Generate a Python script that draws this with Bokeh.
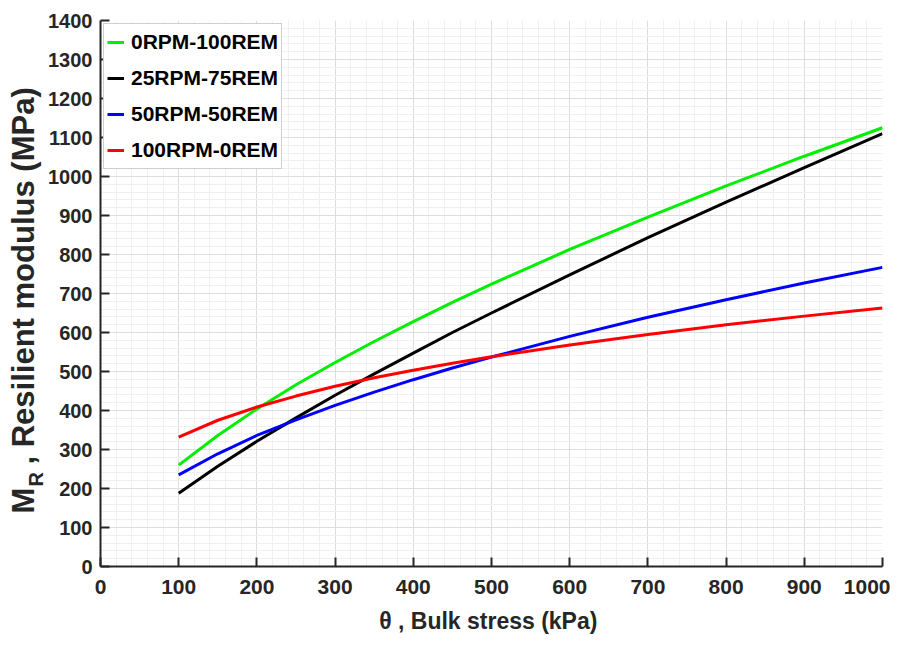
import math
from bokeh.plotting import figure
from bokeh.layouts import row
from bokeh.models import Range1d, SingleIntervalTicker, Label, Legend, LegendItem
from bokeh.embed import file_html
from bokeh.resources import INLINE

# Bulk stress (kPa)
theta = [100, 150, 200, 250, 300, 350, 400, 450, 500, 600, 700, 800, 900, 1000]
# Resilient modulus (MPa)
mr_0rpm_100rem = [260, 336, 404, 466, 523, 577, 628, 677, 724, 813, 896, 976, 1052, 1125]
mr_25rpm_75rem = [188, 257, 321, 381, 439, 494, 547, 600, 650, 748, 843, 934, 1023, 1110]
mr_50rpm_50rem = [235, 289, 336, 376, 413, 447, 479, 509, 537, 590, 639, 684, 727, 767]
mr_100rpm_0rem = [332, 375, 409, 437, 462, 484, 503, 521, 538, 568, 595, 620, 642, 663]

series_names = ["0RPM-100REM", "25RPM-75REM", "50RPM-50REM", "100RPM-0REM"]
series_values = [mr_0rpm_100rem, mr_25rpm_75rem, mr_50rpm_50rem, mr_100rpm_0rem]
series_colors = ["#00ee00", "#000000", "#0000ff", "#ff0000"]

SANS = "Liberation Sans"
W, H = 890, 639
LEFT_W = 45
TOP, BOTTOM = 20, 73

p = figure(width=W - LEFT_W, height=H, output_backend="svg", toolbar_location=None,
           x_range=Range1d(0, 1000), y_range=Range1d(0, 1400),
           min_border_left=99 - LEFT_W, min_border_right=8, min_border_top=TOP,
           min_border_bottom=BOTTOM)
p.outline_line_color = None
p.background_fill_color = "white"

p.xaxis.ticker = SingleIntervalTicker(interval=100, num_minor_ticks=5)
p.yaxis.ticker = SingleIntervalTicker(interval=100, num_minor_ticks=5)

for ax in (p.xaxis[0], p.yaxis[0]):
    ax.axis_line_color = "#262626"
    ax.axis_line_width = 2
    ax.major_tick_line_color = "#262626"
    ax.major_tick_line_width = 2
    ax.major_tick_in = 9
    ax.major_tick_out = 0
    ax.minor_tick_line_color = None
    ax.major_label_text_font = SANS
    ax.major_label_text_font_style = "bold"
    ax.major_label_text_color = "#262626"

p.xaxis.major_label_text_font_size = "21px"
p.yaxis.major_label_text_font_size = "20px"
p.xaxis.major_label_standoff = 9
p.yaxis.major_label_standoff = 4
p.xaxis.axis_label = "\u03b8 , Bulk stress  (kPa)"
p.xaxis.axis_label_text_font = SANS
p.xaxis.axis_label_text_font_style = "bold"
p.xaxis.axis_label_text_font_size = "23px"
p.xaxis.axis_label_text_color = "#262626"
p.xaxis.axis_label_standoff = 11

p.xgrid.grid_line_color = "#dedede"
p.ygrid.grid_line_color = "#dedede"
p.xgrid.minor_grid_line_color = "#f0f0f0"
p.ygrid.minor_grid_line_color = "#f0f0f0"

items = []
for name, vals, col in zip(series_names, series_values, series_colors):
    r = p.line(theta, vals, line_color=col, line_width=3)
    items.append(LegendItem(label=name, renderers=[r]))

legend = Legend(items=items, location="top_left")
legend.margin = 3
legend.padding = 3
legend.spacing = 6
legend.glyph_width = 17
legend.glyph_height = 30
legend.label_height = 30
legend.label_standoff = 7
legend.label_text_font = SANS
legend.label_text_font_style = "bold"
legend.label_text_font_size = "21px"
legend.label_text_color = "#000000"
legend.border_line_color = "#a0a0a0"
legend.border_line_width = 1
legend.background_fill_alpha = 1
p.add_layout(legend, "center")

# narrow strip on the left carrying the rotated y-axis title (with subscript);
# its frame is aligned with the main frame, so map its y range to page pixels
t = figure(width=LEFT_W, height=H, output_backend="svg", toolbar_location=None,
           x_range=Range1d(0, LEFT_W), y_range=Range1d(H - BOTTOM, TOP),
           x_axis_location=None, y_axis_location=None,
           min_border_left=0, min_border_right=0, min_border_top=TOP, min_border_bottom=BOTTOM)
t.outline_line_color = None
t.grid.visible = False

lab_m = Label(x=23, y=513, text="M", angle=math.pi/2,
              text_font=SANS, text_font_style="bold", text_font_size="31px", text_color="#262626",
              text_align="left", text_baseline="middle")
lab_r = Label(x=35, y=486, text="R", angle=math.pi/2,
              text_font=SANS, text_font_style="bold", text_font_size="20px", text_color="#262626",
              text_align="left", text_baseline="middle")
lab_rest = Label(x=23, y=464, text=", Resilient modulus (MPa)", angle=math.pi/2,
                 text_font=SANS, text_font_style="bold", text_font_size="31px",
                 text_color="#262626", text_align="left", text_baseline="middle")
for l in (lab_m, lab_r, lab_rest):
    t.add_layout(l)

layout = row(t, p, spacing=0)
open("out.html", "w").write(file_html(layout, INLINE))
